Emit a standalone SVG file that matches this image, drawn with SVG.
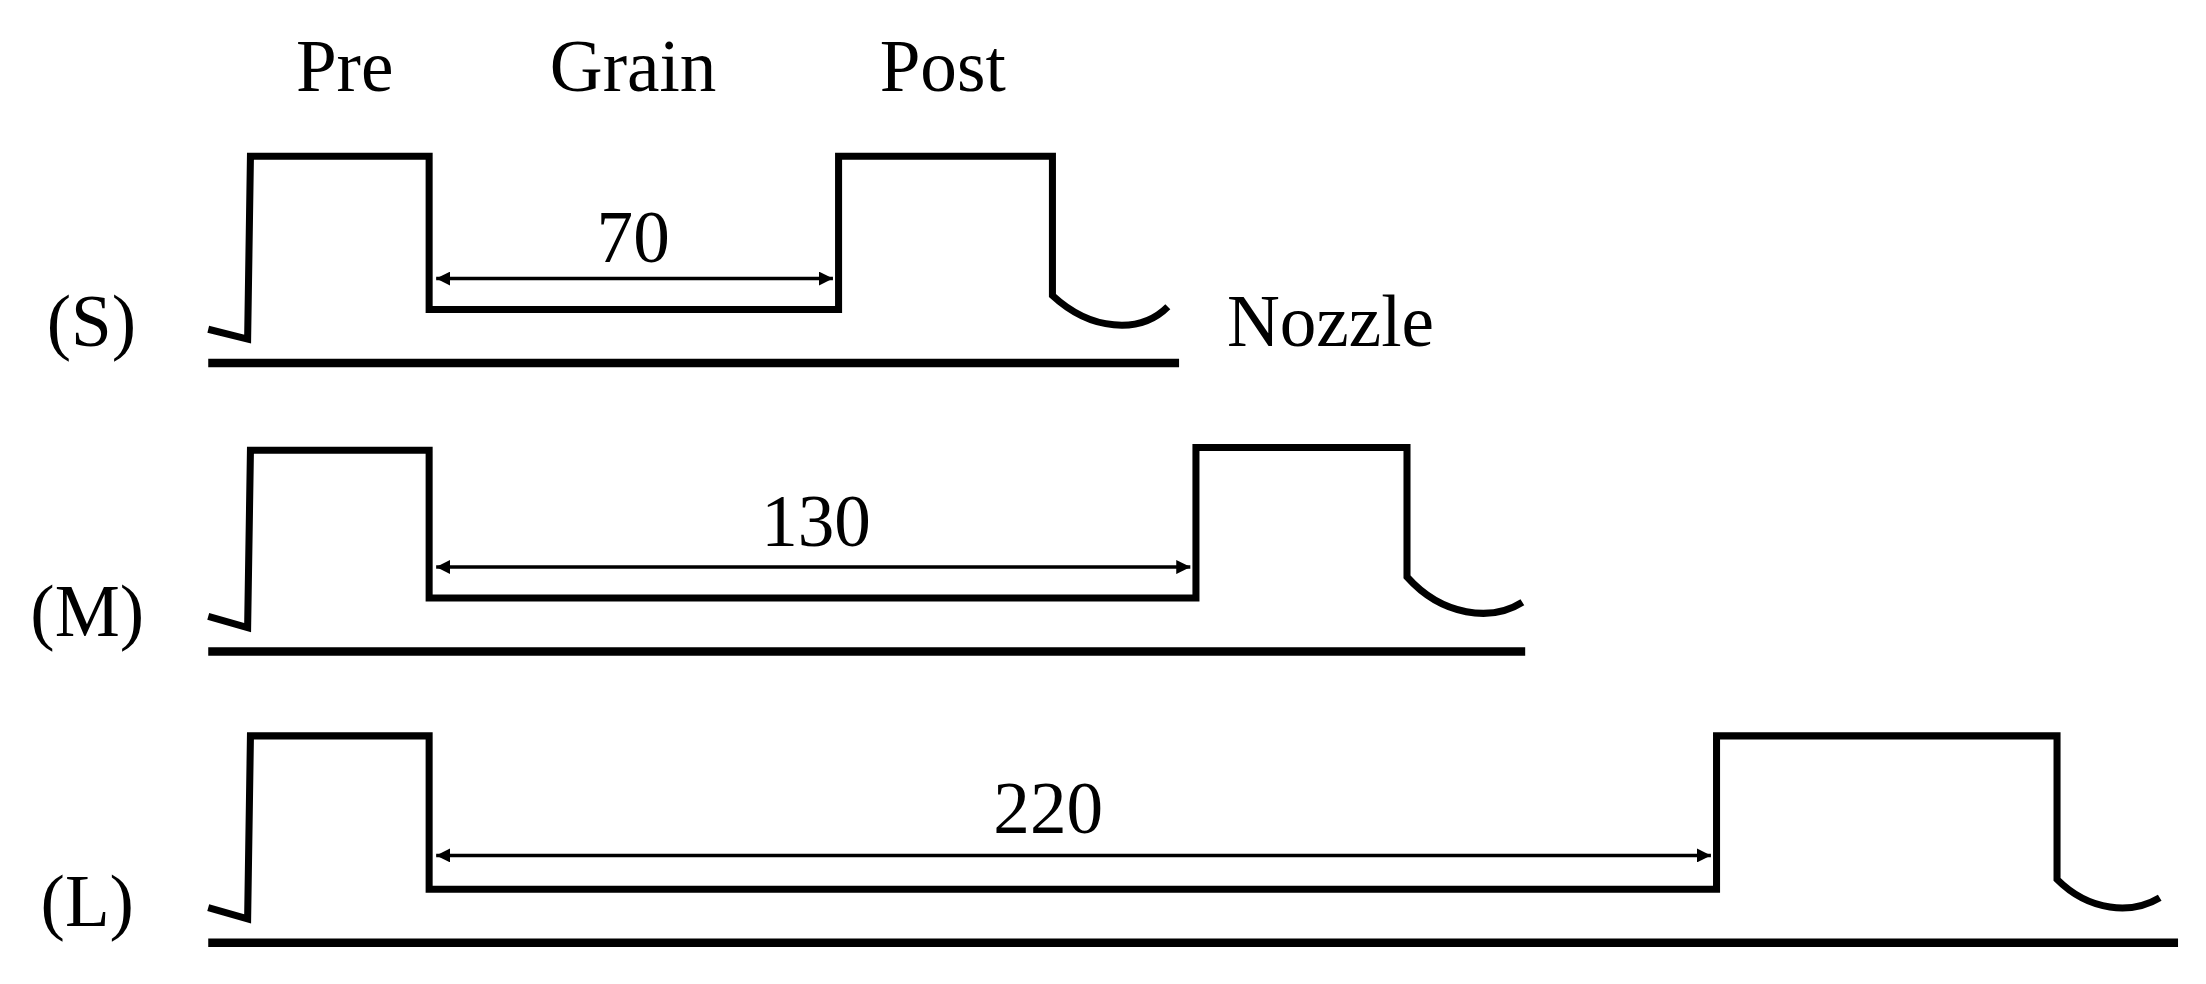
<svg xmlns="http://www.w3.org/2000/svg" width="2206" height="984" viewBox="0 0 2206 984">
<defs>
<marker id="ah" viewBox="0 0 10 10" refX="10" refY="5" markerWidth="10" markerHeight="10" markerUnits="userSpaceOnUse" orient="auto-start-reverse"><path d="M0,0 L10,5 L0,10 z" fill="#000"/></marker>
</defs>
<style>
.w{fill:none;stroke:#000;stroke-width:5;stroke-linejoin:miter}
.b{fill:none;stroke:#000;stroke-width:6}
.a{stroke:#000;stroke-width:2.5;marker-start:url(#ah);marker-end:url(#ah)}
text{font-family:"Liberation Serif","Times New Roman",serif;font-size:52px;fill:#000}
.c{text-anchor:middle}
</style>
<rect width="2206" height="984" fill="#fff"/>
<g transform="scale(1.407)">
<g id="labels">
<text class="c" x="245" y="65">Pre</text>
<text class="c" x="450" y="65">Grain</text>
<text class="c" x="670" y="65">Post</text>
<text x="872" y="246">Nozzle</text>
<text class="c" x="65" y="246">(S)</text>
<text class="c" x="62" y="452">(M)</text>
<text class="c" x="62" y="658">(L)</text>
</g>
<g id="S">
<line class="b" x1="148" y1="258" x2="838" y2="258"/>
<path class="w" d="M148,234 L176,241 L178,111 L305,111 L305,220 L596,220 L596,111 L748,111 L748,210 C775,235 810,238 830,218"/>
<text class="c" x="450" y="186">70</text>
</g>
<g id="M">
<line class="b" x1="148" y1="463" x2="1084" y2="463"/>
<path class="w" d="M148,438 L176,446 L178,320 L305,320 L305,425 L850,425 L850,318 L1000,318 L1000,410 C1025,438 1060,442 1082,428"/>
<text class="c" x="580" y="388">130</text>
</g>
<g id="L">
<line class="b" x1="148" y1="670" x2="1548" y2="670"/>
<path class="w" d="M148,645 L176,653 L178,523 L305,523 L305,632 L1220,632 L1220,523 L1462,523 L1462,625 C1485,648 1515,650 1535,638"/>
<text class="c" x="745" y="592">220</text>
</g>
<g id="connectors">
<line class="a" x1="310" y1="198" x2="592" y2="198"/>
<line class="a" x1="310" y1="403" x2="846" y2="403"/>
<line class="a" x1="310" y1="608" x2="1216" y2="608"/>
</g>
</g>
</svg>
